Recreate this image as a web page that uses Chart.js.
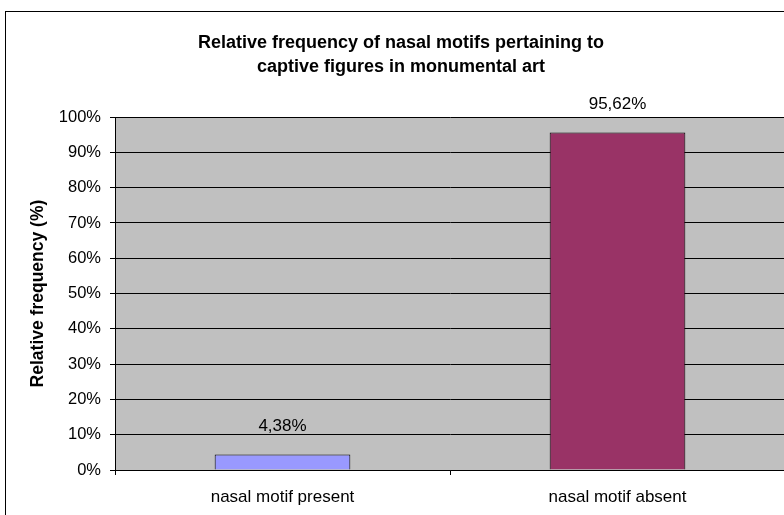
<!DOCTYPE html>
<html>
<head>
<meta charset="utf-8">
<script src="https://cdn.jsdelivr.net/npm/chart.js@4.4.0/dist/chart.umd.min.js"></script>
<style>
  html, body { margin: 0; padding: 0; overflow: hidden; background: #fff; }
  #wrap { position: relative; width: 790px; height: 515px; }
</style>
</head>
<body>
<div id="wrap"><canvas id="chart"></canvas></div>
<script>
// chart data
const categories = ["nasal motif present", "nasal motif absent"];
const frequencies = [4.38, 95.62];
const barColors = ["#9999FF", "#993366"];
const yTicks = [0, 10, 20, 30, 40, 50, 60, 70, 80, 90, 100];

const titleLines = [
  "Relative frequency of nasal motifs pertaining to",
  "captive figures in monumental art",
];
const yAxisTitle = "Relative frequency (%)";

const fontFamily = "'Liberation Sans', Arial, sans-serif";

// comma as decimal separator, like the original
const fmtPct = (v) => v.toFixed(2).replace(".", ",") + "%";

// gray plot area + outer chart border
const backdrop = {
  id: "backdrop",
  beforeDraw(chart) {
    const { ctx, chartArea } = chart;
    ctx.save();
    ctx.fillStyle = "#fff";
    ctx.fillRect(0, 0, chart.width, chart.height);
    ctx.fillStyle = "#C0C0C0";
    ctx.fillRect(chartArea.left, chartArea.top,
      chartArea.right - chartArea.left, chartArea.bottom - chartArea.top);
    ctx.strokeStyle = "#000";
    ctx.lineWidth = 1;
    ctx.strokeRect(5.5, 11.5, chart.width + 50, chart.height + 50);
    ctx.restore();
  },
};

// value labels above the bars
const valueLabels = {
  id: "valueLabels",
  afterDatasetsDraw(chart) {
    const { ctx } = chart;
    const meta = chart.getDatasetMeta(0);
    ctx.save();
    ctx.font = "17px " + fontFamily;
    ctx.fillStyle = "#000";
    ctx.textAlign = "center";
    ctx.textBaseline = "middle";
    meta.data.forEach((bar, i) => {
      ctx.fillText(fmtPct(frequencies[i]), bar.x, bar.y - 28);
    });
    ctx.restore();
  },
};

new Chart(document.getElementById("chart"), {
  type: "bar",
  data: {
    labels: categories,
    datasets: [{
      data: frequencies,
      backgroundColor: barColors,
      borderColor: "#000",
      borderWidth: 1,
      categoryPercentage: 0.405,
      barPercentage: 1.0,
    }],
  },
  options: {
    responsive: true,
    maintainAspectRatio: false,
    animation: false,
    devicePixelRatio: 1,
    layout: { padding: { left: 17, right: 5, top: 12, bottom: 0 } },
    plugins: {
      legend: { display: false },
      tooltip: { enabled: false },
      title: {
        display: true,
        text: titleLines,
        color: "#000",
        font: { family: fontFamily, size: 18, weight: "bold", lineHeight: 1.28 },
        padding: { top: 20, bottom: 39 },
      },
    },
    scales: {
      x: {
        grid: { drawOnChartArea: false, drawTicks: true, tickLength: 5, color: "#000" },
        border: { color: "#000", width: 1 },
        ticks: { color: "#000", font: { family: fontFamily, size: 17 }, padding: 12 },
        afterFit(scale) { scale.height = 45; },
      },
      y: {
        min: 0,
        max: 100,
        afterBuildTicks(scale) { scale.ticks = yTicks.map((v) => ({ value: v })); },
        grid: { color: "#000", tickLength: 5 },
        border: { color: "#000", width: 1 },
        ticks: {
          color: "#000",
          font: { family: fontFamily, size: 16.5 },
          padding: 9,
          callback: (v) => v + "%",
        },
        title: {
          display: true,
          text: yAxisTitle,
          color: "#000",
          font: { family: fontFamily, size: 17.5, weight: "bold" },
          padding: { top: 11, bottom: 0 },
        },
        afterFit(scale) { scale.width = 98; },
      },
    },
  },
  plugins: [backdrop, valueLabels],
});
</script>
</body>
</html>
